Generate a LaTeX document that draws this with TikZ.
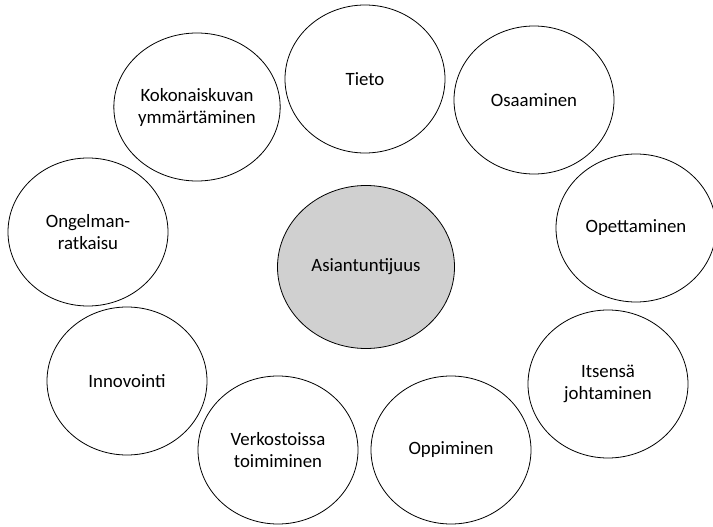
\documentclass[tikz,border=0pt]{standalone}
\usepackage{fontspec}
\setmainfont{Carlito}
\usetikzlibrary{shapes.geometric}
\definecolor{coregray}{RGB}{208,208,208}

\begin{document}
\begin{tikzpicture}[x=1pt, y=-1pt, font=\fontsize{18.8}{22}\selectfont,
    skill/.style={ellipse, draw=black, line width=0.8pt, fill=white, minimum width=160pt, minimum height=148pt, inner sep=0pt, align=center},
    core/.style={skill, fill=coregray, minimum width=177pt, minimum height=163pt}
]
\useasboundingbox (0,0) rectangle (713,527);
\node[core] (asiantuntijuus) at (366,267) {Asiantuntijuus};
\node[skill] (tieto) at (365,79) {Tieto};
\node[skill] (kokonais) at (197,107) {Kokonaiskuvan\\ymmärtäminen};
\node[skill] (osaaminen) at (534,100) {Osaaminen};
\node[skill] (opettaminen) at (636,228) {Opettaminen};
\node[skill] (ongelma) at (88,232) {Ongelman-\\ratkaisu};
\node[skill] (innovointi) at (127,381) {Innovointi};
\node[skill] (verkosto) at (278,450) {Verkostoissa\\toimiminen};
\node[skill] (oppiminen) at (451,450) {Oppiminen};
\node[skill] (itsensa) at (608,384) {Itsensä\\johtaminen};
\end{tikzpicture}
\end{document}
